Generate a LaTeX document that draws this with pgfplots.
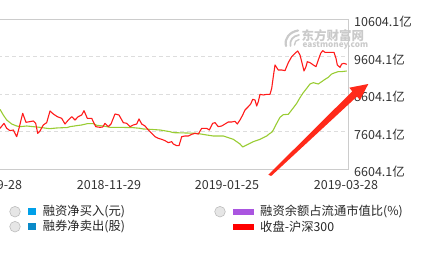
\documentclass[border=0pt]{standalone}
\usepackage{pgfplots}
\pgfplotsset{compat=1.18}
\usepackage{fontspec}
\setmainfont{Noto Sans CJK SC}
\definecolor{redline}{HTML}{FF1A1A}
\definecolor{greenline}{HTML}{99CC33}
\definecolor{gridc}{HTML}{DDDDDD}
\definecolor{axisc}{HTML}{CCCCCC}
\definecolor{txt}{HTML}{333333}
\definecolor{blueA}{HTML}{00A0E9}
\definecolor{blueB}{HTML}{0A8AC8}
\definecolor{purp}{HTML}{AA55E0}
\definecolor{wm}{HTML}{CACACA}
\definecolor{arrowred}{HTML}{FF2A1A}
\definecolor{circf}{HTML}{E6E6E6}
\definecolor{circd}{HTML}{BDBDBD}

\begin{document}
\begin{tikzpicture}
\path[use as bounding box] (0,0) rectangle (437pt,254pt);
\clip (0,0) rectangle (437pt,254pt);
\begin{axis}[
 at={(-30pt,84.7pt)}, anchor=south west,
 scale only axis, width=378pt, height=150pt,
 xmin=-30, xmax=348, ymin=6604.1, ymax=10604.1,
 scaled y ticks=false,
 axis line style={axisc, line width=0.8pt},
 xtick={-10,109,227,346},
 xticklabels={2018-09-28,2018-11-29,2019-01-25,2019-03-28},
 ytick={6604.1,7604.1,8604.1,9604.1,10604.1},
 yticklabels={6604.1亿,7604.1亿,8604.1亿,9604.1亿,10604.1亿},
 yticklabel pos=right,
 major tick length=0pt,
 ymajorgrids,
 grid style={gridc, dash pattern=on 4pt off 3pt, line width=0.8pt},
 xticklabel style={anchor=center, yshift=-16pt, font=\fontsize{12.5}{14}\selectfont, text=txt},
 yticklabel style={anchor=west, inner sep=0pt, xshift=6pt, yshift=-2.5pt, font=\fontsize{12.5}{14}\selectfont, text=txt},
]
\addplot[greenline, line width=1.1pt, line join=round] coordinates {
(0,8203) (3.3,8052) (6.7,7919) (11.7,7812) (16.7,7759) (20.0,7741) (26.7,7759)
(33.3,7741) (40.0,7723) (46.7,7697) (50.0,7688) (56.7,7706) (63.3,7714) (66.7,7714)
(70.0,7741) (76.7,7768) (81.7,7786) (87.3,7821) (93.3,7821) (96.7,7777) (103.3,7759)
(110.0,7723) (120.0,7723) (133.3,7714) (140.0,7697) (143.3,7679) (150.0,7670)
(160.0,7652) (170.0,7608) (173.3,7581) (186.7,7572) (196.7,7563) (206.7,7519)
(213.3,7492) (223.3,7492) (228.3,7448) (233.3,7403) (236.7,7341) (240.0,7279)
(242.7,7199) (246.7,7252) (253.3,7341) (260.0,7403) (266.7,7492) (270.0,7563)
(271.7,7590) (273.3,7652) (276.7,7830) (280.0,7990) (283.3,8061) (288.3,8070)
(291.7,8186) (296.7,8363) (300.0,8515) (303.3,8648) (306.7,8763) (310.0,8879)
(313.3,8914) (318.3,8879) (321.7,8941) (325.0,9003) (328.3,9056) (331.7,9145)
(335.0,9181) (338.3,9208) (341.7,9208) (346.7,9226)
};
\addplot[redline, line width=1.1pt, line join=round] coordinates {
(0.0,7697) (4.0,7830) (6.7,7697) (10.0,7634) (13.3,7652) (16.7,7474) (19.0,7697)
(22.7,8097) (26.0,7857) (30.0,7875) (33.3,7892) (35.7,7830) (37.7,7563) (40.0,7626)
(43.3,7786) (46.7,7848) (50.0,8159) (53.3,8079) (57.3,8008) (61.7,7963) (65.0,7812)
(68.3,7919) (71.7,8008) (75.0,7919) (78.3,8008) (81.7,8052) (84.0,8168) (87.3,7963)
(91.7,7963) (95.7,7741) (100.0,7723) (102.7,7732) (105.0,7830) (108.3,7741)
(111.0,7812) (115.0,8079) (119.0,8052) (123.3,7848) (126.7,7830) (130.0,7741)
(133.3,7786) (136.7,7812) (139.0,7946) (141.7,7812) (145.0,7759) (148.3,7652)
(151.7,7563) (155.0,7474) (158.3,7430) (161.7,7403) (165.0,7368) (168.3,7315)
(171.7,7341) (173.3,7279) (176.7,7234) (179.0,7234) (181.7,7474) (185.0,7492)
(188.3,7492) (191.7,7537) (195.0,7563) (198.3,7545) (201.7,7697) (206.7,7697)
(209.3,7652) (212.7,7830) (215.0,7848) (218.3,7741) (221.7,7759) (225.0,7812)
(228.3,7866) (231.7,7866) (235.0,7883) (237.3,7812) (240.0,7919) (242.7,8052)
(245.0,8186) (248.3,8274) (250.7,8346) (252.7,8470) (255.0,8452) (256.7,8292)
(258.3,8408) (260.0,8603) (263.3,8586) (266.7,8603) (270.0,8603) (271.7,8763)
(273.3,9075) (275.0,9386) (278.3,9252) (281.7,9252) (285.0,9235) (288.3,9448)
(291.7,9608) (295.0,9697) (297.7,9759) (300.0,9652) (301.7,9474) (304.0,9226)
(306.0,9341) (307.3,9474) (310.0,9448) (313.3,9386) (316.0,9341) (318.3,9519)
(320.7,9697) (322.7,9768) (325.0,9723) (328.3,9723) (331.7,9723) (334.0,9723)
(336.0,9563) (337.3,9386) (340.0,9323) (341.7,9412) (344.0,9430) (346.7,9403)
};
\end{axis}
\begin{scope}[shift={(0pt,254pt)}, x=1pt, y=-1pt]
 % watermark
 \draw[wm, line width=2.2pt, line cap=round] (286,46) .. controls (284,38) and (290,32) .. (298,30.5);
 \draw[wm, line width=1.8pt, line cap=round] (290.5,46) .. controls (289.5,40) and (293,36) .. (299,35);
 \draw[wm, line width=1.4pt, line cap=round] (294.5,45) .. controls (294.5,42) and (296,40) .. (299,39.5);
 \node[anchor=base west, inner sep=0pt, text=wm, font=\fontsize{12.5}{13}\selectfont\bfseries] at (301.5,40.5) {东方财富网};
 \node[anchor=base west, inner sep=0pt, text=wm, font=\fontsize{8.2}{9}\selectfont\bfseries] at (302.5,47.5) {eastmoney.com};
 % arrow
 \fill[arrowred] (268.3,174.8) -- (352.3,91.3) -- (349.3,87.7) -- (368.3,84) -- (360,100) -- (357,96.5) -- (271.2,176) -- cycle;
 % legend
 \filldraw[fill=circf, draw=circd, line width=0.6pt] (15,211.7) circle[radius=5.3pt];
 \filldraw[fill=circf, draw=circd, line width=0.6pt] (15,226.7) circle[radius=5.3pt];
 \filldraw[fill=circf, draw=circd, line width=0.6pt] (220,211.7) circle[radius=5.3pt];
 \fill[blueA] (28.3,208) rectangle (35.7,215.4);
 \fill[blueB] (28.3,223) rectangle (35.7,230.4);
 \fill[purp] (233.3,209.2) rectangle (254,215);
 \fill[red] (233.3,224.2) rectangle (254,230);
 \begin{scope}[every node/.style={anchor=west, inner sep=0pt, font=\fontsize{12.3}{13}\selectfont, text=black!85}]
 \node at (42.7,211.7) {融资净买入(元)};
 \node at (42.7,226.7) {融券净卖出(股)};
 \node at (260,211.7) {融资余额占流通市值比(\%)};
 \node at (260,226.7) {收盘-沪深300};
 \end{scope}
\end{scope}
\end{tikzpicture}
\end{document}
